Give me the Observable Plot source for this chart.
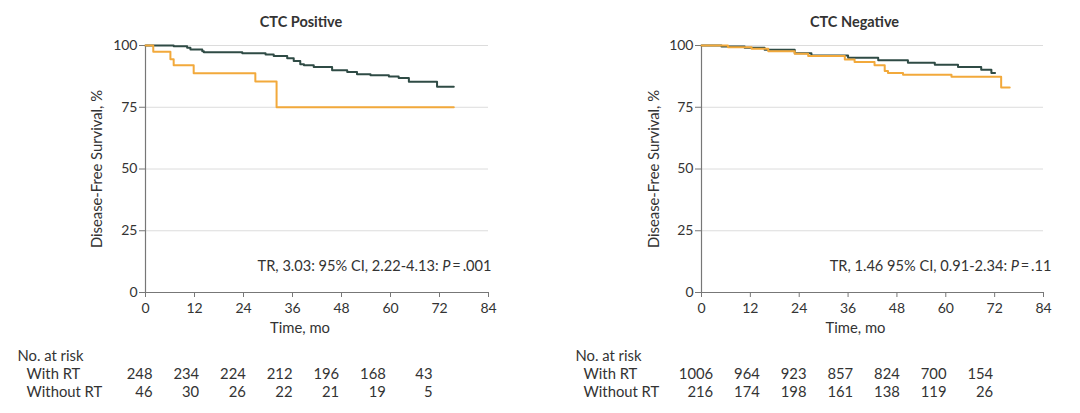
<!DOCTYPE html>
<html><head><meta charset="utf-8">
<script src="https://cdn.jsdelivr.net/npm/d3@7"></script>
<script src="https://cdn.jsdelivr.net/npm/@observablehq/plot@0.6"></script>
<style>
body{margin:0;background:#fff;}
#wrap{position:relative;width:1080px;height:413px;font-family:Lato,sans-serif;color:#333;}
#wrap svg{position:absolute;}
</style></head><body><div id="wrap"></div>
<script>
const ticksX = [0, 12, 24, 36, 48, 60, 72, 84];
const ticksY = [0, 25, 50, 75, 100];
const gridY = [25, 50, 75, 100];
const riskTimes = [0, 12, 24, 36, 48, 60, 72];
const riskRows = ["No. at risk", "With RT", "Without RT"];
const titles = ["CTC Positive", "CTC Negative"];
const notes = ["TR, 3.03: 95% CI, 2.22-4.13: P\u2009=\u2009.001", "TR, 1.46 95% CI, 0.91-2.34: P\u2009=\u2009.11"];

// CTC positive
const posWithT = [0, 6.9, 10.2, 11.0, 13.9, 14.3, 23.7, 29.4, 31.4, 34.7, 36.3, 37.9, 38.8, 41.2, 45.7, 49.4, 51.8, 55.1, 59.6, 62.0, 64.5, 71.4, 75.5];
const posWithS = [100, 99.7, 99.1, 98.4, 97.7, 97.3, 96.9, 96.4, 95.7, 94.8, 93.7, 92.4, 92.0, 91.3, 90.0, 89.3, 88.4, 88.0, 87.4, 86.8, 85.3, 83.3, 83.3];
const posWithoutT = [0, 1.9, 6.1, 6.9, 11.8, 26.9, 32.1, 75.5];
const posWithoutS = [100, 97.5, 94.4, 92.0, 88.8, 85.4, 75.0, 75.0];
// CTC negative
const negWithT = [0, 4.9, 10.6, 15.5, 22.9, 27.0, 36.0, 43.4, 50.7, 57.3, 63.0, 68.7, 71.2, 72.1];
const negWithS = [100, 99.6, 99.1, 98.3, 96.9, 96.0, 95.0, 94.0, 93.0, 92.2, 91.3, 90.2, 88.9, 88.9];
const negWithoutT = [0, 6.5, 12.3, 16.4, 22.9, 26.2, 35.2, 37.6, 42.5, 45.0, 45.8, 49.5, 61.4, 73.6, 75.7];
const negWithoutS = [100, 99.3, 98.7, 97.7, 96.7, 95.7, 94.3, 93.3, 92.0, 89.7, 88.9, 88.2, 87.3, 83.0, 83.0];

const posRiskWith = [248, 234, 224, 212, 196, 168, 43];
const posRiskWithout = [46, 30, 26, 22, 21, 19, 5];
const negRiskWith = [1006, 964, 923, 857, 824, 700, 154];
const negRiskWithout = [216, 174, 198, 161, 138, 119, 26];

const GREEN = "#2f4b45", ORANGE = "#f2a93b";
const font = {fontFamily: "Lato, sans-serif", fontSize: "14px", color: "#333", background: "transparent"};
const FS = 14.8;

const toRows = (T, S) => T.map((t, i) => ({t, s: S[i]}));
const panels = [
  {left: 0, ml: 145, mr: 52, with: toRows(posWithT, posWithS), without: toRows(posWithoutT, posWithoutS),
   rw: posRiskWith, rwo: posRiskWithout, range: [152, 432], l1: 17, l2: 26, noteDx: 3, titleDx: -16, ylDx: -48},
  {left: 540, ml: 161, mr: 37, with: toRows(negWithT, negWithS), without: toRows(negWithoutT, negWithoutS),
   rw: negRiskWith, rwo: negRiskWithout, range: [172.7, 452.7], l1: 35, l2: 43, noteDx: 8, titleDx: -18, ylDx: -47}
];

const wrap = document.getElementById("wrap");
panels.forEach((p, k) => {
  const chart = Plot.plot({
    width: 540, height: 340,
    marginLeft: p.ml, marginRight: p.mr, marginTop: 45, marginBottom: 48,
    style: font,
    x: {domain: [0, 84]},
    y: {domain: [0, 100]},
    marks: [
      Plot.gridY(gridY, {stroke: "#dcdcdc", strokeOpacity: 1}),
      Plot.ruleX([0], {y1: 0, y2: 100, stroke: "#777", strokeWidth: 1.2}),
      Plot.ruleY([0], {x1: 0, x2: 84, stroke: "#777", strokeWidth: 1.2}),
      Plot.axisY({ticks: ticksY, tickSize: 6, tickPadding: 2, label: null, stroke: "#777"}),
      Plot.axisX({ticks: ticksX, tickSize: 5, tickPadding: 6, label: null, stroke: "#777"}),
      Plot.line(p.with, {x: "t", y: "s", curve: "step-after", stroke: GREEN, strokeWidth: 2}),
      Plot.line(p.without, {x: "t", y: "s", curve: "step-after", stroke: ORANGE, strokeWidth: 2}),
      Plot.text([titles[k]], {frameAnchor: "top", dy: -29, dx: p.titleDx, fontWeight: "bold", fontSize: 14.5}),
      Plot.text(["Time, mo"], {frameAnchor: "bottom", dy: 40, dx: -17, fontSize: FS}),
      Plot.text(["Disease-Free Survival, %"], {frameAnchor: "left", textAnchor: "middle", rotate: -90, dx: p.ylDx, fontSize: FS}),
      Plot.text([notes[k]], {frameAnchor: "bottom-right", textAnchor: "end", dx: p.noteDx, dy: -22, fontSize: 14.6})
    ]
  });
  chart.style.left = p.left + "px";
  chart.style.top = "0px";
  d3.select(chart).selectAll("text").each(function () {
    const s = this.textContent;
    const i = s.indexOf("P\u2009=");
    if (i >= 0 && s.startsWith("TR")) {
      const el = d3.select(this);
      el.text(null);
      el.append("tspan").text(s.slice(0, i));
      el.append("tspan").attr("font-style", "italic").text("P");
      el.append("tspan").text(s.slice(i + 1));
    }
  });
  wrap.appendChild(chart);

  const risk = [
    ...riskTimes.map((t, i) => ({t, g: "With RT", n: p.rw[i]})),
    ...riskTimes.map((t, i) => ({t, g: "Without RT", n: p.rwo[i]}))
  ];
  const table = Plot.plot({
    width: 540, height: 73,
    marginLeft: 0, marginRight: 0, marginTop: 0, marginBottom: 0,
    style: font,
    x: {domain: [0, 72], range: p.range, axis: null},
    y: {type: "point", domain: riskRows, range: [15.7, 52], padding: 0, axis: null},
    marks: [
      Plot.text([riskRows[0]], {y: d => d, frameAnchor: "left", dx: p.l1, textAnchor: "start", fontSize: FS}),
      Plot.text(riskRows.slice(1), {y: d => d, frameAnchor: "left", dx: p.l2, textAnchor: "start", fontSize: FS}),
      Plot.text(risk, {x: "t", y: "g", text: d => String(d.n), textAnchor: "end", fontSize: FS})
    ]
  });
  table.style.left = p.left + "px";
  table.style.top = "340px";
  wrap.appendChild(table);
});
</script>
</body></html>
